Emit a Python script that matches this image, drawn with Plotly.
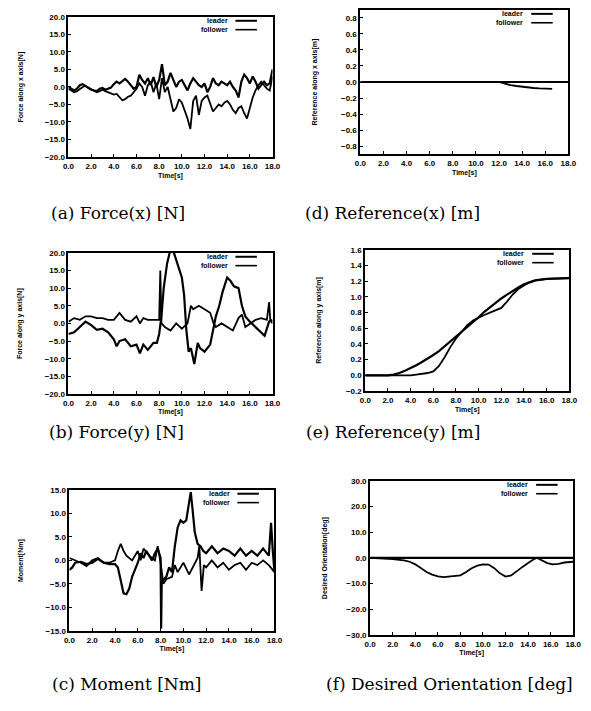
import plotly.graph_objects as go

W, H = 591, 711

# ---------------- data ----------------
# (a) Force along x axis [N]
t_fx = [0.0, 0.25, 0.5, 0.75, 1.0, 1.25, 1.5, 1.75, 2.0, 2.25, 2.5, 2.75, 3.0, 3.25, 3.5, 3.75,
        4.0, 4.25, 4.5, 4.75, 5.0, 5.25, 5.5, 5.75, 6.0, 6.25, 6.5, 6.75, 7.0, 7.25, 7.5, 7.75,
        8.0, 8.25, 8.5, 8.75, 9.0, 9.25, 9.5, 9.75, 10.0, 10.25, 10.5, 10.75, 11.0, 11.25, 11.5, 11.75,
        12.0, 12.25, 12.5, 12.75, 13.0, 13.25, 13.5, 13.75, 14.0, 14.25, 14.5, 14.75, 15.0, 15.25, 15.5, 15.75,
        16.0, 16.25, 16.5, 16.75, 17.0, 17.25, 17.5, 17.75, 18.0]
fx_leader = [0.0, -0.5, -1.0, -0.5, 0.5, 0.8, 0.3, -0.3, -0.8, -1.0, -1.2, -0.5, -0.3, -0.8, -0.6, -0.2,
             0.8, 1.5, 1.0, 1.8, 2.3, 1.5, 0.5, -0.5, 0.0, 3.5, 2.0, 1.0, 2.5, 0.5, 2.8, 0.0,
             2.0, 6.5, 0.5, 1.5, 4.0, 2.0, 0.0, 1.5, 2.0, 0.5, -1.0, 1.0, 2.5, 1.5, 0.5, 0.0,
             1.0, -1.5, 0.0, 2.5, 1.0, 0.5, 1.5, 1.0, 0.5, 1.5, 0.0, -1.0, -3.0, 1.5, 3.5, 2.5,
             1.0, 3.0, 1.5, -0.5, 0.5, 1.5, 0.5, 1.0, 5.0]
fx_follower = [-0.5, -1.0, -1.5, -1.2, -0.5, 0.0, 0.3, -0.2, -0.6, -1.0, -1.5, -1.2, -0.8, -1.2, -1.5, -2.0,
               -2.2, -2.0, -2.8, -3.8, -3.5, -2.8, -2.5, -1.5, -0.5, 1.0, 0.0, -2.5, 0.5, 1.5, -1.5, 1.0,
               -3.5, 2.5, -1.5, 0.0, -4.0, -7.0, -6.0, -3.5, -4.5, -6.5, -9.0, -12.0, -4.0, -2.5, -8.0, -4.0,
               -3.0, -2.5, -4.5, -7.0, -6.0, -5.0, -5.5, -4.5, -4.0, -5.0, -6.5, -7.5, -6.0, -5.5, -7.5, -9.0,
               -6.0, -3.0, -1.0, 0.5, 1.5, 0.5, -0.5, -1.0, 3.0]

# (b) Force along y axis [N]
t_fy_leader = [0.0, 0.5, 1.0, 1.5, 2.0, 2.5, 3.0, 3.5, 4.0, 4.25, 4.5, 5.0, 5.5, 6.0, 6.3, 6.6, 7.0, 7.5,
               7.8, 8.0, 8.2, 8.4, 8.7, 9.0, 9.3, 9.7, 10.0, 10.2, 10.4, 10.6, 10.8, 11.1, 11.4, 11.6,
               12.0, 12.5, 12.8, 13.0, 13.3, 13.6, 14.0, 14.3, 14.6, 15.0, 15.3, 15.6, 16.0, 16.5,
               17.0, 17.3, 17.7, 18.0]
fy_leader = [-3.0, -2.5, -1.0, 0.5, -0.5, -1.8, -1.5, -2.5, -4.5, -6.5, -5.0, -4.5, -6.5, -6.0, -8.5, -6.0, -7.5, -5.5,
             -5.5, -3.0, 2.0, 10.0, 17.0, 21.0, 20.0, 16.0, 13.0, 8.0, -2.0, -8.0, -7.0, -11.5, -5.5, -7.0,
             -8.0, -6.0, -1.0, 2.0, 5.0, 9.0, 13.0, 12.0, 10.5, 10.0, 5.0, 2.0, 0.5, -1.0,
             -2.5, -3.5, 0.5, 1.0]
t_fy_follower = [0.0, 0.5, 1.0, 1.5, 2.0, 2.5, 3.0, 3.5, 4.0, 4.5, 5.0, 5.5, 6.0, 6.3, 6.6, 7.0, 7.5, 8.0,
                 8.1, 8.15, 8.2, 8.5, 9.0, 9.5, 10.0, 10.5, 10.8, 11.0, 11.5, 12.0, 12.5, 12.8, 13.0,
                 13.5, 14.0, 14.5, 15.0, 15.3, 15.6, 16.0, 16.5, 17.0, 17.5, 17.7, 17.8, 18.0]
fy_follower = [0.5, 1.5, 1.0, 2.0, 2.0, 1.5, 1.5, 1.0, 1.0, 3.0, 1.0, 0.5, 2.0, 0.0, 1.5, 1.0, 1.0, 1.0,
               15.0, 8.0, 0.0, -1.0, -2.0, 0.0, -1.5, 0.0, 5.0, 4.0, 5.0, 4.0, 3.0, 0.0, -1.0,
               0.0, -1.0, -2.0, 1.5, 2.5, -1.0, 0.0, 1.0, 1.5, 1.0, 6.0, 1.0, 0.0]

# (c) Moment [Nm]
t_m_leader = [0.0, 0.25, 0.5, 1.0, 1.5, 2.0, 2.5, 3.0, 3.5, 4.0, 4.25, 4.5, 4.75, 5.0, 5.25, 5.5, 5.75,
              6.0, 6.25, 6.5, 6.75, 7.0, 7.25, 7.5, 7.75, 8.0, 8.05, 8.1, 8.5, 8.75, 9.0, 9.25, 9.5,
              9.75, 10.0, 10.25, 10.5, 10.65, 10.8, 11.0, 11.25, 11.5, 11.75, 12.0, 12.5, 13.0, 13.5,
              14.0, 14.5, 15.0, 15.5, 16.0, 16.5, 17.0, 17.5, 17.7, 17.85, 18.0]
m_leader = [-2.0, -1.5, -0.5, -0.3, -0.8, -0.5, 0.3, -0.5, -0.8, -0.8, -1.5, -4.5, -7.0, -7.2, -6.0, -3.5, -2.0,
            -0.5, 1.5, 0.5, 2.0, 1.0, 0.0, 1.5, 2.5, 0.5, -14.5, -4.5, -3.5, -1.5, -2.5, 3.0, 7.0,
            8.5, 8.0, 8.5, 12.0, 14.5, 11.0, 6.0, 3.5, 3.0, 2.0, 1.5, 3.0, 1.5, 2.5,
            2.0, 1.0, 2.5, 1.0, 2.0, 1.0, 2.5, 1.0, 8.0, 2.0, -2.5]
t_m_follower = [0.0, 0.5, 1.0, 1.5, 2.0, 2.5, 3.0, 3.5, 4.0, 4.25, 4.5, 4.75, 5.0, 5.5, 6.0, 6.25, 6.5,
                7.0, 7.5, 7.75, 8.0, 8.25, 8.5, 9.0, 9.25, 9.5, 10.0, 10.5, 11.0, 11.25, 11.4, 11.6,
                11.8, 12.0, 12.5, 13.0, 13.5, 14.0, 14.5, 15.0, 15.5, 16.0, 16.5, 17.0, 17.5, 18.0]
m_follower = [0.5, 0.0, -0.5, -1.2, 0.0, 0.5, -0.5, -0.5, 0.0, 2.0, 3.5, 2.0, 1.0, 0.0, 2.0, 0.0, 2.5,
              1.0, 0.0, 3.0, -0.5, -5.0, -4.0, -3.5, -1.0, -2.5, -0.5, -3.0, -0.5, 0.5, 3.0, -6.5,
              -1.0, -1.5, 0.0, -1.5, -0.5, -2.0, -1.0, -0.5, -2.0, -0.5, -1.0, 0.0, -1.0, -2.5]

# (d) Reference along x axis [m]
t_rx_leader = [0.0, 4.0, 8.0, 12.0, 16.0, 18.0]
rx_leader = [0.0, 0.0, 0.0, 0.0, 0.0, 0.0]
t_rx_follower = [0.0, 6.0, 12.0, 12.5, 13.0, 13.5, 14.0, 14.5, 15.0, 15.5, 16.0, 16.6]
rx_follower = [0.0, 0.0, 0.0, -0.02, -0.04, -0.05, -0.06, -0.07, -0.075, -0.08, -0.085, -0.085]

# (e) Reference along y axis [m]
t_ry = [0.0, 1.0, 2.0, 2.5, 3.0, 3.5, 4.0, 4.5, 5.0, 5.5, 6.0, 6.5, 7.0, 7.5, 8.0, 8.5, 9.0, 9.5,
        10.0, 10.5, 11.0, 11.5, 12.0, 12.5, 13.0, 13.5, 14.0, 14.5, 15.0, 15.5, 16.0, 17.0, 18.0]
ry_leader = [0.0, 0.0, 0.0, 0.01, 0.03, 0.06, 0.09, 0.13, 0.17, 0.21, 0.26, 0.31, 0.37, 0.43, 0.49, 0.55, 0.62, 0.68,
             0.74, 0.81, 0.87, 0.93, 0.98, 1.03, 1.08, 1.12, 1.16, 1.19, 1.21, 1.22, 1.23, 1.235, 1.24]
ry_follower = [0.0, 0.0, 0.0, 0.0, 0.0, 0.0, 0.0, 0.01, 0.02, 0.03, 0.05, 0.12, 0.23, 0.36, 0.47, 0.56, 0.64, 0.70,
               0.74, 0.77, 0.80, 0.83, 0.86, 0.94, 1.03, 1.10, 1.15, 1.19, 1.21, 1.22, 1.23, 1.235, 1.24]

# (f) Desired Orientation [deg]
t_ori_leader = [0.0, 6.0, 12.0, 18.0]
ori_leader = [0.0, 0.0, 0.0, 0.0]
t_ori_follower = [0.0, 1.0, 2.0, 3.0, 3.5, 4.0, 4.5, 5.0, 5.5, 6.0, 6.5, 7.0, 7.5, 8.0, 8.5, 9.0, 9.5,
                  10.0, 10.5, 11.0, 11.5, 12.0, 12.5, 13.0, 13.5, 14.0, 14.5, 14.8, 15.2, 15.7, 16.2,
                  16.7, 17.2, 18.0]
ori_follower = [0.0, -0.2, -0.5, -1.0, -1.5, -2.5, -4.0, -5.5, -6.5, -7.2, -7.5, -7.3, -7.0, -6.8, -5.5, -4.0, -3.0,
                -2.5, -2.6, -4.0, -6.0, -7.3, -6.8, -5.0, -3.5, -2.0, -0.5, 0.0, -0.8, -2.0, -2.5,
                -2.3, -1.8, -1.5]

series_names = ["leader", "follower"]
captions = ["(a) Force(x) [N]", "(b) Force(y) [N]", "(c) Moment [Nm]",
            "(d) Reference(x) [m]", "(e) Reference(y) [m]", "(f) Desired Orientation [deg]"]
y_titles = ["Force along x axis[N]", "Force along y axis[N]", "Moment[Nm]",
            "Reference along x axis[m]", "Reference along y axis[m]", "Desired Orientation[deg]"]
x_title = "Time[s]"

# ---------------- layout helpers ----------------
def fx_(px):
    return px / W

def fy_(py):
    return 1 - py / H

# plot boxes in pixels: (left, right, top, bottom)
boxes = [
    (64, 273, 13, 155),     # a
    (64, 273, 252, 395),    # b
    (65, 275, 492, 635),    # c
    (363, 576, 6, 152),     # d
    (368, 577, 249, 392),   # e
    (373, 581, 483, 639),   # f
]
yranges = [(-20, 20), (-20, 20), (-15, 15), (-0.9, 0.9), (-0.2, 1.6), (-30, 30)]
ydticks = [5, 5, 5, 0.2, 0.2, 10]
ytitle_x = [15, 15, 16, 317, 321, 327]
cap_pos = [(115, 212), (113, 433), (123, 689), (396, 212), (396, 433), (454, 689)]

panels = [
    ((t_fx, fx_leader), (t_fx, fx_follower)),
    ((t_fy_leader, fy_leader), (t_fy_follower, fy_follower)),
    ((t_m_leader, m_leader), (t_m_follower, m_follower)),
    ((t_rx_leader, rx_leader), (t_rx_follower, rx_follower)),
    ((t_ry, ry_leader), (t_ry, ry_follower)),
    ((t_ori_leader, ori_leader), (t_ori_follower, ori_follower)),
]

fig = go.Figure()
tickfont = dict(family="Liberation Sans", size=8, color="black", weight="bold")
titlefont = dict(family="Liberation Sans", size=7, color="black", weight="bold")
annotations = []
shapes = []

for i, (box, (lead, foll)) in enumerate(zip(boxes, panels)):
    n = "" if i == 0 else str(i + 1)
    xa, ya = "x" + n, "y" + n
    l, r, t, b = box
    fig.add_trace(go.Scatter(x=lead[0], y=lead[1], mode="lines", name=series_names[0],
                             line=dict(color="black", width=2.2), xaxis=xa, yaxis=ya,
                             showlegend=False))
    fig.add_trace(go.Scatter(x=foll[0], y=foll[1], mode="lines", name=series_names[1],
                             line=dict(color="black", width=1.8), xaxis=xa, yaxis=ya,
                             showlegend=False))
    axcommon = dict(showline=True, linewidth=2, linecolor="black", mirror=True,
                    ticks="inside", ticklen=3, tickwidth=1, tickcolor="black",
                    showgrid=False, zeroline=False, tickfont=tickfont)
    fig.update_layout(**{
        "xaxis" + n: dict(domain=[fx_(l), fx_(r)], range=[0, 18], dtick=2, tick0=0,
                          tickformat=".1f", anchor=ya,
                          title=dict(text=x_title, font=titlefont, standoff=3), **axcommon),
        "yaxis" + n: dict(domain=[fy_(b), fy_(t)], range=list(yranges[i]), dtick=ydticks[i],
                          tick0=0, tickformat=".1f", anchor=xa, **axcommon),
    })
    # y axis title (rotated)
    annotations.append(dict(x=fx_(ytitle_x[i]), y=fy_((t + b) / 2), xref="paper", yref="paper",
                            text=y_titles[i], showarrow=False, textangle=-90,
                            xanchor="center", yanchor="middle", font=titlefont))
    # legend (gnuplot style: text then line sample)
    for k, name in enumerate(series_names):
        py = t + 4 + k * 9
        annotations.append(dict(x=fx_(r - 44), y=fy_(py), xref="paper", yref="paper",
                                text=name, showarrow=False, xanchor="right", yanchor="middle",
                                font=titlefont))
        shapes.append(dict(type="line", xref="paper", yref="paper",
                           x0=fx_(r - 38), x1=fx_(r - 16), y0=fy_(py), y1=fy_(py),
                           line=dict(color="black", width=2.0 if k == 0 else 1.6)))
    cx, cy = cap_pos[i]
    annotations.append(dict(x=fx_(cx), y=fy_(cy), xref="paper", yref="paper",
                            text=captions[i], showarrow=False, xanchor="center", yanchor="middle",
                            font=dict(family="DejaVu Serif", size=17, color="black")))

fig.update_layout(width=W, height=H, margin=dict(l=0, r=0, t=0, b=0),
                  paper_bgcolor="white", plot_bgcolor="white",
                  annotations=annotations, shapes=shapes, showlegend=False)

fig.write_html("out.html")
